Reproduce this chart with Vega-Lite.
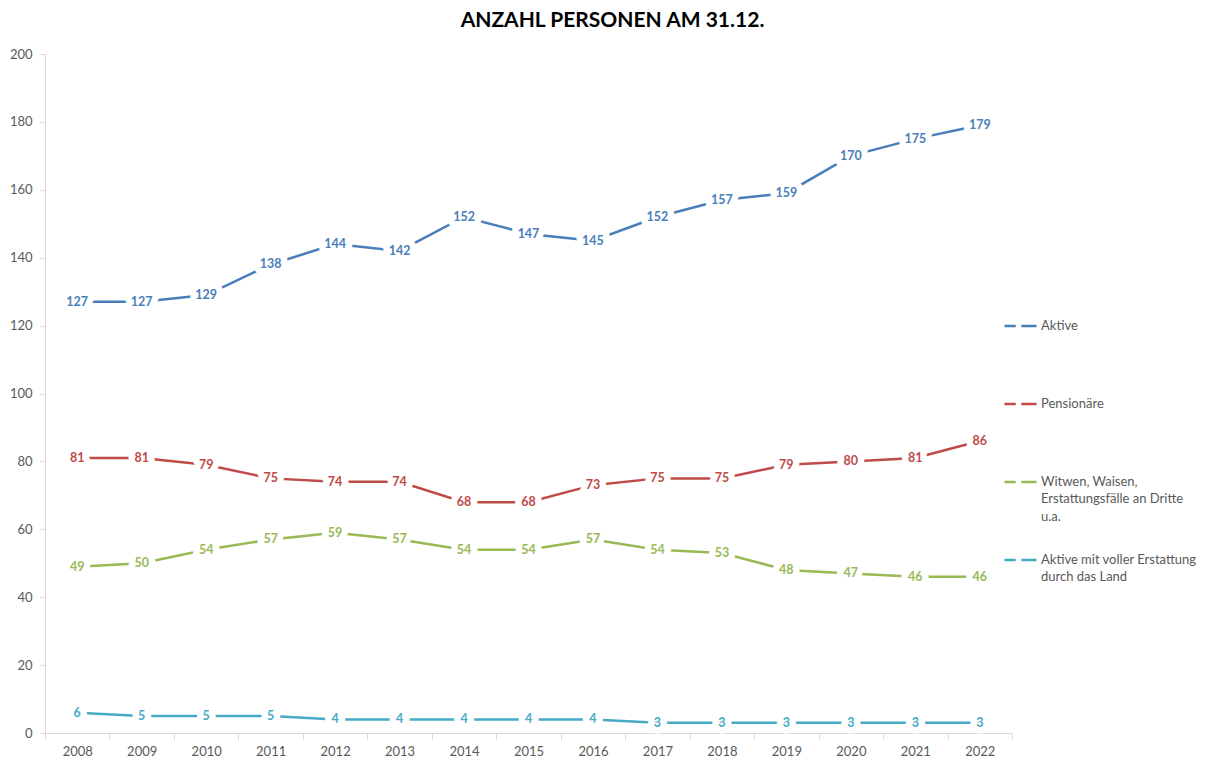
{
  "$schema": "https://vega.github.io/schema/vega-lite/v6.json",
  "width": 967,
  "height": 679,
  "autosize": {"type": "none"},
  "padding": {"left": 45, "top": 54, "right": 200, "bottom": 31},
  "background": "white",
  "title": {
    "text": "ANZAHL PERSONEN AM 31.12.",
    "font": "Lato",
    "fontSize": 21,
    "fontWeight": "bold",
    "color": "#000000",
    "anchor": "middle",
    "dx": 84,
    "offset": 17
  },
  "config": {
    "view": {"stroke": null},
    "font": "Lato",
    "style": {"guide-label": {"lineHeight": 17.5}}
  },
  "data": {
    "values": [
      {"Jahr": "2008", "Gruppe": "Aktive", "Anzahl": 127},
      {"Jahr": "2009", "Gruppe": "Aktive", "Anzahl": 127},
      {"Jahr": "2010", "Gruppe": "Aktive", "Anzahl": 129},
      {"Jahr": "2011", "Gruppe": "Aktive", "Anzahl": 138},
      {"Jahr": "2012", "Gruppe": "Aktive", "Anzahl": 144},
      {"Jahr": "2013", "Gruppe": "Aktive", "Anzahl": 142},
      {"Jahr": "2014", "Gruppe": "Aktive", "Anzahl": 152},
      {"Jahr": "2015", "Gruppe": "Aktive", "Anzahl": 147},
      {"Jahr": "2016", "Gruppe": "Aktive", "Anzahl": 145},
      {"Jahr": "2017", "Gruppe": "Aktive", "Anzahl": 152},
      {"Jahr": "2018", "Gruppe": "Aktive", "Anzahl": 157},
      {"Jahr": "2019", "Gruppe": "Aktive", "Anzahl": 159},
      {"Jahr": "2020", "Gruppe": "Aktive", "Anzahl": 170},
      {"Jahr": "2021", "Gruppe": "Aktive", "Anzahl": 175},
      {"Jahr": "2022", "Gruppe": "Aktive", "Anzahl": 179},
      {"Jahr": "2008", "Gruppe": "Pensionäre", "Anzahl": 81},
      {"Jahr": "2009", "Gruppe": "Pensionäre", "Anzahl": 81},
      {"Jahr": "2010", "Gruppe": "Pensionäre", "Anzahl": 79},
      {"Jahr": "2011", "Gruppe": "Pensionäre", "Anzahl": 75},
      {"Jahr": "2012", "Gruppe": "Pensionäre", "Anzahl": 74},
      {"Jahr": "2013", "Gruppe": "Pensionäre", "Anzahl": 74},
      {"Jahr": "2014", "Gruppe": "Pensionäre", "Anzahl": 68},
      {"Jahr": "2015", "Gruppe": "Pensionäre", "Anzahl": 68},
      {"Jahr": "2016", "Gruppe": "Pensionäre", "Anzahl": 73},
      {"Jahr": "2017", "Gruppe": "Pensionäre", "Anzahl": 75},
      {"Jahr": "2018", "Gruppe": "Pensionäre", "Anzahl": 75},
      {"Jahr": "2019", "Gruppe": "Pensionäre", "Anzahl": 79},
      {"Jahr": "2020", "Gruppe": "Pensionäre", "Anzahl": 80},
      {"Jahr": "2021", "Gruppe": "Pensionäre", "Anzahl": 81},
      {"Jahr": "2022", "Gruppe": "Pensionäre", "Anzahl": 86},
      {"Jahr": "2008", "Gruppe": "Witwen", "Anzahl": 49},
      {"Jahr": "2009", "Gruppe": "Witwen", "Anzahl": 50},
      {"Jahr": "2010", "Gruppe": "Witwen", "Anzahl": 54},
      {"Jahr": "2011", "Gruppe": "Witwen", "Anzahl": 57},
      {"Jahr": "2012", "Gruppe": "Witwen", "Anzahl": 59},
      {"Jahr": "2013", "Gruppe": "Witwen", "Anzahl": 57},
      {"Jahr": "2014", "Gruppe": "Witwen", "Anzahl": 54},
      {"Jahr": "2015", "Gruppe": "Witwen", "Anzahl": 54},
      {"Jahr": "2016", "Gruppe": "Witwen", "Anzahl": 57},
      {"Jahr": "2017", "Gruppe": "Witwen", "Anzahl": 54},
      {"Jahr": "2018", "Gruppe": "Witwen", "Anzahl": 53},
      {"Jahr": "2019", "Gruppe": "Witwen", "Anzahl": 48},
      {"Jahr": "2020", "Gruppe": "Witwen", "Anzahl": 47},
      {"Jahr": "2021", "Gruppe": "Witwen", "Anzahl": 46},
      {"Jahr": "2022", "Gruppe": "Witwen", "Anzahl": 46},
      {"Jahr": "2008", "Gruppe": "Erstattung", "Anzahl": 6},
      {"Jahr": "2009", "Gruppe": "Erstattung", "Anzahl": 5},
      {"Jahr": "2010", "Gruppe": "Erstattung", "Anzahl": 5},
      {"Jahr": "2011", "Gruppe": "Erstattung", "Anzahl": 5},
      {"Jahr": "2012", "Gruppe": "Erstattung", "Anzahl": 4},
      {"Jahr": "2013", "Gruppe": "Erstattung", "Anzahl": 4},
      {"Jahr": "2014", "Gruppe": "Erstattung", "Anzahl": 4},
      {"Jahr": "2015", "Gruppe": "Erstattung", "Anzahl": 4},
      {"Jahr": "2016", "Gruppe": "Erstattung", "Anzahl": 4},
      {"Jahr": "2017", "Gruppe": "Erstattung", "Anzahl": 3},
      {"Jahr": "2018", "Gruppe": "Erstattung", "Anzahl": 3},
      {"Jahr": "2019", "Gruppe": "Erstattung", "Anzahl": 3},
      {"Jahr": "2020", "Gruppe": "Erstattung", "Anzahl": 3},
      {"Jahr": "2021", "Gruppe": "Erstattung", "Anzahl": 3},
      {"Jahr": "2022", "Gruppe": "Erstattung", "Anzahl": 3}
    ]
  },
  "encoding": {
    "x": {
      "field": "Jahr",
      "type": "ordinal",
      "scale": {"type": "band", "paddingInner": 0, "paddingOuter": 0},
      "axis": {
        "title": null,
        "labelAngle": 0,
        "tickBand": "extent",
        "domainColor": "#d9d9d9",
        "tickColor": "#d9d9d9",
        "tickSize": 6,
        "labelFontSize": 13,
        "labelColor": "#595959",
        "labelFont": "Lato",
        "labelPadding": 6,
        "grid": false
      }
    },
    "y": {
      "field": "Anzahl",
      "type": "quantitative",
      "scale": {"domain": [0, 200], "nice": false},
      "axis": {
        "title": null,
        "values": [0, 20, 40, 60, 80, 100, 120, 140, 160, 180, 200],
        "grid": false,
        "domainColor": "#d9d9d9",
        "tickColor": "#d9d9d9",
        "tickSize": 5,
        "labelFontSize": 13,
        "labelColor": "#595959",
        "labelFont": "Lato",
        "labelPadding": 8
      }
    }
  },
  "layer": [
    {
      "mark": {"type": "line", "strokeWidth": 2.5},
      "encoding": {
        "color": {
          "field": "Gruppe",
          "type": "nominal",
          "scale": {
            "domain": ["Aktive", "Pensionäre", "Witwen", "Erstattung"],
            "range": ["#4a7ebb", "#be4b48", "#98b954", "#46aac5"]
          },
          "legend": {
            "orient": "none",
            "legendX": 958,
            "legendY": 248,
            "padding": 0,
            "title": null,
            "symbolType": "M-1,0.4H-0.3M0.05,0.4H1",
            "symbolSize": 1024,
            "symbolStrokeWidth": 2.5,
            "symbolFillColor": "transparent",
            "labelFont": "Lato",
            "labelFontSize": 13,
            "labelColor": "#595959",
            "labelBaseline": "top",
            "labelOffset": 3,
            "labelLimit": 300,
            "rowPadding": 12,
            "labelExpr": "datum.value == 'Aktive' ? ['Aktive', '', ''] : datum.value == 'Pensionäre' ? ['Pensionäre', '', ''] : datum.value == 'Witwen' ? ['Witwen, Waisen,', 'Erstattungsfälle an Dritte', 'u.a.'] : ['Aktive mit voller Erstattung', 'durch das Land', '']"
          }
        }
      }
    },
    {
      "mark": {
        "type": "text",
        "font": "Lato",
        "fontSize": 12.5,
        "fontWeight": "bold",
        "stroke": "white",
        "strokeWidth": 13,
        "strokeJoin": "round",
        "fill": "white"
      },
      "encoding": {"text": {"field": "Anzahl", "type": "quantitative"}}
    },
    {
      "mark": {
        "type": "text",
        "font": "Lato",
        "fontSize": 12.5,
        "fontWeight": "bold"
      },
      "encoding": {
        "text": {"field": "Anzahl", "type": "quantitative"},
        "color": {"field": "Gruppe", "type": "nominal", "legend": null}
      }
    }
  ]
}
